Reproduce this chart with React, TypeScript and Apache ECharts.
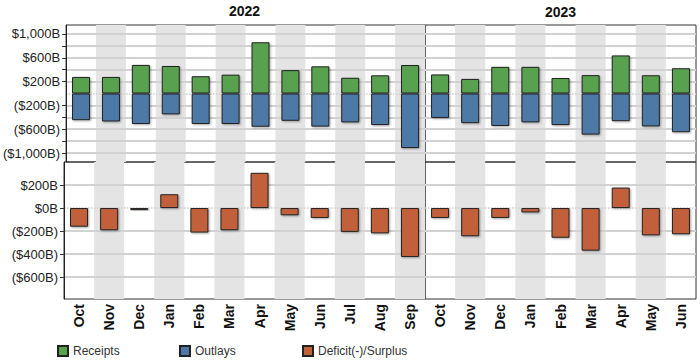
import React, { useEffect, useRef } from "react";
import * as echarts from "echarts";

const months2022 = ["Oct", "Nov", "Dec", "Jan", "Feb", "Mar", "Apr", "May", "Jun", "Jul", "Aug", "Sep"];
const months2023 = ["Oct", "Nov", "Dec", "Jan", "Feb", "Mar", "Apr", "May", "Jun"];

const receipts2022 = [278, 278, 480, 462, 290, 316, 860, 392, 456, 264, 305, 478];
const outlays2022 = [-448, -470, -512, -350, -512, -512, -558, -458, -556, -485, -530, -916];
const deficit2022 = [-162, -193, -18, 120, -213, -193, 306, -63, -86, -207, -220, -425];

const receipts2023 = [320, 245, 447, 447, 260, 308, 639, 306, 424];
const outlays2023 = [-410, -498, -545, -484, -530, -690, -465, -552, -650];
const deficit2023 = [-86, -245, -86, -38, -258, -370, 178, -237, -228];

const topTicks = [-1000, -800, -600, -400, -200, 200, 400, 600, 800, 1000];
const topLabels = [-1000, -600, -200, 200, 600, 1000];
const bottomTicks = [-600, -400, -200, 0, 200];
const bottomGridLines = [-600, -400, -200, 200];

const GREEN = "#59a14f";
const BLUE = "#4e79a7";
const RUST = "#c1613b";

function fmt(v: number): string {
  const a = Math.abs(v);
  const s = a >= 1000 ? Math.floor(a / 1000) + "," + String(a % 1000).padStart(3, "0") : String(a);
  return v < 0 ? "($" + s + "B)" : "$" + s + "B";
}

export default function App() {
  const ref = useRef<HTMLDivElement>(null);
  useEffect(() => {
    document.body.style.margin = "0";
    const chart = echarts.init(ref.current!, null, { renderer: "svg" });
    const font = "Arial, 'Liberation Sans', sans-serif";
    const L = 64, M = 425, R = 696, T = 25, MID = 162, B = 299;
    const grids = [
      { left: L, top: T, width: M - L, height: MID - T },
      { left: M, top: T, width: R - M, height: MID - T },
      { left: L, top: MID, width: M - L, height: B - MID },
      { left: M, top: MID, width: R - M, height: B - MID },
    ].map((g) => ({ ...g, show: true, borderColor: "#333", borderWidth: 1, backgroundColor: "transparent" }));

    const cats = [months2022, months2023, months2022, months2023];
    const xAxis = cats.map((c, i) => ({
      type: "category",
      gridIndex: i,
      data: c,
      boundaryGap: true,
      axisLine: { show: false },
      axisTick: { show: false },
      axisLabel: i >= 2
        ? { show: true, interval: 0, rotate: 90, fontWeight: "bold", fontSize: 14, color: "#111", fontFamily: font, margin: 5 }
        : { show: false },
      splitLine: { show: false },
      splitArea: { show: true, interval: 0, areaStyle: { color: ["rgba(255,255,255,0)", "#e4e4e4"] } },
    }));

    const yAxis = [0, 1, 2, 3].map((i) => {
      const top = i < 2;
      const left = i % 2 === 0;
      return {
        type: "value",
        gridIndex: i,
        z: 1,
        min: top ? -1150 : -790,
        max: top ? 1150 : 400,
        axisLine: { show: left, lineStyle: { color: "#222", width: 1 } },
        axisTick: { show: left, length: 4, customValues: top ? topTicks : bottomTicks, lineStyle: { color: "#333" } },
        axisLabel: {
          show: left,
          customValues: top ? topLabels : bottomTicks,
          formatter: (v: number) => fmt(v),
          fontSize: 13,
          color: "#222",
          fontFamily: font,
          margin: 6,
        },
        splitLine: { show: false },
      };
    });

    const shadow = { shadowColor: "rgba(0,0,0,0.35)", shadowBlur: 2, shadowOffsetX: 1, shadowOffsetY: 1 };
    const bar = (name: string, data: number[], color: string, gi: number) => ({
      type: "bar",
      name,
      data,
      xAxisIndex: gi,
      yAxisIndex: gi,
      barWidth: 18,
      barGap: "-100%",
      itemStyle: { color, borderColor: "#222", borderWidth: 1, ...shadow },
      z: 3,
    });
    const guides = (gi: number) => {
      const lines = gi < 2 ? topTicks : bottomGridLines;
      return {
        type: "line",
        data: [],
        xAxisIndex: gi,
        yAxisIndex: gi,
        z: 1,
        silent: true,
        markLine: {
          z: 1,
          silent: true,
          symbol: "none",
          label: { show: false },
          data: [
            ...lines.map((v) => ({ yAxis: v, lineStyle: { color: "#d2d2d2", width: 2, type: "solid" } })),
            { yAxis: 0, lineStyle: { color: "#cfcfcf", width: 1.5, type: "dotted" } },
          ],
        },
      };
    };

    const series = [
      guides(0), guides(1), guides(2), guides(3),
      bar("Receipts", receipts2022, GREEN, 0),
      bar("Outlays", outlays2022, BLUE, 0),
      bar("Receipts", receipts2023, GREEN, 1),
      bar("Outlays", outlays2023, BLUE, 1),
      bar("Deficit(-)/Surplus", deficit2022, RUST, 2),
      bar("Deficit(-)/Surplus", deficit2023, RUST, 3),
    ];

    const legendBase = {
      orient: "horizontal",
      top: 340,
      itemWidth: 10,
      itemHeight: 10,
      itemGap: 5,
      icon: "rect",
      textStyle: { fontSize: 12, color: "#333", fontFamily: font },
      selectedMode: false,
    };

    chart.setOption({
      animation: false,
      backgroundColor: "#fff",
      grid: grids,
      xAxis,
      yAxis,
      series,
      legend: [
        { ...legendBase, left: 52, data: ["Receipts"] },
        { ...legendBase, left: 174, data: ["Outlays"] },
        { ...legendBase, left: 297, data: ["Deficit(-)/Surplus"] },
      ],
      graphic: [
        { type: "text", x: (L + M) / 2, y: 11, style: { text: "2022", align: "center", verticalAlign: "middle", fontSize: 14, fontWeight: "bold", fontFamily: font, fill: "#111" } },
        { type: "text", x: (M + R) / 2, y: 12, style: { text: "2023", align: "center", verticalAlign: "middle", fontSize: 14, fontWeight: "bold", fontFamily: font, fill: "#111" } },
      ],
    });
    return () => chart.dispose();
  }, []);
  return <div ref={ref} style={{ width: 700, height: 360 }} />;
}
